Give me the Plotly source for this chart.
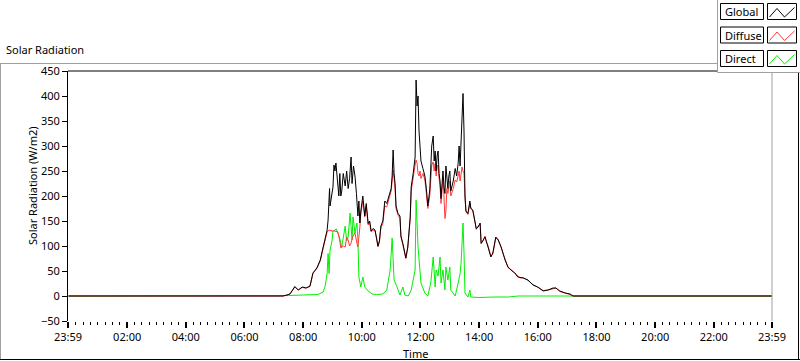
import plotly.graph_objects as go

# ---------------- data (clock time "HH:MM", W/m2) ----------------
global_time = ["00:00", "07:19", "07:27", "07:33", "07:43", "07:50", "07:58", "08:06", "08:14", "08:20",
               "08:28", "08:35", "08:41", "08:49", "08:51", "08:54", "08:55", "08:59", "09:01", "09:03",
               "09:05", "09:07", "09:09", "09:11", "09:13", "09:15", "09:17", "09:19", "09:22", "09:26",
               "09:29", "09:32", "09:35", "09:38", "09:40", "09:43", "09:46", "09:49", "09:52", "09:54",
               "09:56", "09:58", "10:02", "10:06", "10:09", "10:13", "10:16", "10:19", "10:23", "10:27",
               "10:30", "10:33", "10:36", "10:39", "10:43", "10:47", "10:51", "10:54", "10:58", "11:00",
               "11:02", "11:04", "11:06", "11:08", "11:10", "11:14", "11:18", "11:20", "11:24", "11:28",
               "11:30", "11:34", "11:39", "11:41", "11:43", "11:45", "11:49", "11:51", "11:53", "11:55",
               "11:57", "11:59", "12:01", "12:05", "12:09", "12:12", "12:15", "12:19", "12:21", "12:23",
               "12:26", "12:28", "12:30", "12:32", "12:34", "12:36", "12:38", "12:40", "12:42", "12:46",
               "12:48", "12:50", "12:52", "12:54", "12:56", "12:58", "13:00", "13:02", "13:07", "13:11",
               "13:14", "13:17", "13:19", "13:21", "13:23", "13:25", "13:27", "13:29", "13:31", "13:33",
               "13:37", "13:41", "13:43", "13:47", "13:52", "13:54", "13:58", "14:02", "14:04", "14:08",
               "14:12", "14:14", "14:18", "14:22", "14:24", "14:28", "14:32", "14:34", "14:39", "14:45",
               "14:53", "14:59", "15:05", "15:13", "15:19", "15:24", "15:30", "15:40", "15:50", "16:00",
               "16:11", "16:21", "16:31", "16:37", "16:45", "16:56", "17:06", "17:12", "23:59"]
global_wm2 = [0, 0, 2, 4, 19, 12, 18, 16, 20, 46,
              56, 72, 98, 132, 152, 215, 180, 206, 218, 262,
              250, 266, 240, 232, 200, 245, 200, 210, 245, 220,
              250, 215, 235, 278, 225, 260, 240, 205, 160, 190,
              146, 170, 200, 160, 185, 145, 150, 130, 135, 132,
              118, 100, 110, 140, 150, 190, 185, 195, 205, 215,
              240, 292, 245, 225, 180, 165, 160, 120, 105, 85,
              76, 98, 158, 218, 230, 245, 278, 432, 380, 400,
              330, 300, 270, 255, 240, 215, 180, 212, 260, 300,
              320, 270, 290, 250, 280, 290, 245, 230, 195, 250,
              220, 205, 260, 230, 215, 240, 250, 210, 230, 255,
              240, 265, 300, 260, 310, 370, 405, 330, 200, 170,
              165, 190, 175, 172, 145, 135, 138, 146, 105, 112,
              118, 112, 100, 85, 78, 86, 106, 118, 112, 98,
              72, 58, 52, 46, 38, 37, 36, 32, 22, 18,
              10, 12, 16, 16, 10, 6, 4, 0, 0]

diffuse_time = ["00:00", "07:19", "07:27", "07:33", "07:43", "07:50", "07:58", "08:06", "08:14", "08:20",
                "08:28", "08:35", "08:41", "08:49", "08:53", "08:59", "09:05", "09:11", "09:15", "09:17",
                "09:22", "09:26", "09:29", "09:32", "09:35", "09:38", "09:42", "09:46", "09:49", "09:52",
                "09:56", "09:58", "10:02", "10:06", "10:09", "10:13", "10:16", "10:19", "10:23", "10:27",
                "10:30", "10:33", "10:36", "10:39", "10:43", "10:47", "10:51", "10:54", "10:58", "11:00",
                "11:02", "11:04", "11:06", "11:08", "11:10", "11:14", "11:18", "11:20", "11:24", "11:28",
                "11:30", "11:34", "11:39", "11:41", "11:43", "11:45", "11:49", "11:51", "11:53", "11:55",
                "11:57", "11:59", "12:01", "12:05", "12:09", "12:12", "12:15", "12:19", "12:21", "12:23",
                "12:26", "12:28", "12:30", "12:32", "12:34", "12:36", "12:38", "12:40", "12:42", "12:46",
                "12:48", "12:50", "12:52", "12:54", "12:56", "12:58", "13:00", "13:02", "13:07", "13:11",
                "13:14", "13:17", "13:19", "13:21", "13:23", "13:25", "13:27", "13:29", "13:31", "13:33",
                "13:37", "13:41", "13:43", "13:47", "13:52", "13:54", "13:58", "14:02", "14:04", "14:08",
                "14:12", "14:14", "14:18", "14:22", "14:24", "14:28", "14:32", "14:34", "14:39", "14:45",
                "14:53", "14:59", "15:05", "15:13", "15:19", "15:24", "15:30", "15:40", "15:50", "16:00",
                "16:11", "16:21", "16:31", "16:37", "16:45", "16:56", "17:06", "17:12", "23:59"]
diffuse_wm2 = [0, 0, 2, 4, 18, 12, 17, 16, 19, 45,
               55, 70, 96, 128, 132, 130, 130, 128, 110, 96,
               100, 98, 118, 112, 100, 106, 120, 126, 110, 98,
               138, 165, 190, 158, 180, 142, 148, 128, 132, 130,
               116, 98, 108, 136, 145, 180, 178, 188, 198, 210,
               230, 252, 235, 215, 175, 162, 155, 118, 102, 83,
               75, 96, 155, 210, 225, 238, 262, 272, 265, 245,
               240, 250, 235, 245, 232, 205, 175, 200, 235, 262,
               268, 250, 265, 240, 258, 262, 235, 220, 185, 235,
               200, 155, 170, 215, 205, 225, 230, 200, 215, 232,
               228, 240, 250, 230, 245, 258, 250, 245, 200, 168,
               163, 186, 176, 170, 146, 133, 140, 144, 106, 110,
               120, 110, 101, 84, 80, 84, 108, 116, 113, 96,
               73, 57, 53, 45, 39, 36, 37, 31, 23, 17,
               11, 12, 15, 16, 9, 6, 3, 0, 0]

direct_time = ["00:00", "07:19", "07:30", "08:00", "08:30", "08:41", "08:45", "08:49", "08:51", "08:53",
               "08:55", "08:59", "09:01", "09:05", "09:08", "09:11", "09:14", "09:19", "09:22", "09:26",
               "09:29", "09:32", "09:36", "09:40", "09:42", "09:46", "09:50", "09:52", "09:54", "09:58",
               "10:02", "10:06", "10:13", "10:21", "10:30", "10:43", "10:51", "10:58", "11:02", "11:06",
               "11:12", "11:18", "11:24", "11:28", "11:35", "11:41", "11:49", "11:51", "11:55", "11:59",
               "12:01", "12:09", "12:15", "12:21", "12:26", "12:30", "12:32", "12:36", "12:40", "12:42",
               "12:46", "12:50", "12:52", "12:56", "13:00", "13:02", "13:11", "13:17", "13:21", "13:23",
               "13:27", "13:29", "13:31", "13:37", "13:41", "13:43", "14:00", "14:30", "15:00", "15:20",
               "16:00", "16:45", "17:12", "23:59"]
direct_wm2 = [0, 0, 1, 2, 3, 8, 20, 45, 85, 45,
              92, 110, 130, 132, 134, 125, 118, 98, 120, 140,
              110, 118, 166, 112, 158, 126, 146, 112, 38, 18,
              38, 18, 10, 4, 3, 4, 12, 52, 116, 32,
              18, 2, 18, 2, 0, 12, 52, 192, 98, 52,
              26, 6, 0, 26, 78, 18, 52, 40, 78, 26,
              52, 12, 58, 32, 58, 12, 0, 26, 45, 66,
              146, 86, 6, -2, 12, -2, -3, -2, -2, 0,
              0, 0, 0, 0]

y_ticks = [-50, 0, 50, 100, 150, 200, 250, 300, 350, 400, 450]
x_tick_hours = [-1 / 60, 2, 4, 6, 8, 10, 12, 14, 16, 18, 20, 22, 23 + 59 / 60]
x_tick_labels = ["23:59", "02:00", "04:00", "06:00", "08:00", "10:00", "12:00",
                 "14:00", "16:00", "18:00", "20:00", "22:00", "23:59"]
legend_names = ["Global", "Diffuse", "Direct"]
legend_colors = ["#000000", "#ff3b3b", "#00f000"]


def to_hours(t):
    hh, mm = t.split(":")
    return int(hh) + int(mm) / 60.0


FONT = "Segoe UI, Noto Sans, DejaVu Sans, sans-serif"
FS = 11

# plot area in pixels
L, R, T, B = 68, 772, 71, 321
W, H = 800, 361


def px(x):
    return (x - L) / (R - L)


def py(y):
    return (B - y) / (B - T)


fig = go.Figure()
fig.add_trace(go.Scatter(x=[to_hours(t) for t in direct_time], y=direct_wm2, mode="lines",
                         line=dict(color=legend_colors[2], width=1), name="Direct"))
fig.add_trace(go.Scatter(x=[to_hours(t) for t in diffuse_time], y=diffuse_wm2, mode="lines",
                         line=dict(color=legend_colors[1], width=1), name="Diffuse"))
fig.add_trace(go.Scatter(x=[to_hours(t) for t in global_time], y=global_wm2, mode="lines",
                         line=dict(color=legend_colors[0], width=1), name="Global"))

shapes = []
gray = "#a0a0a0"
# outer frame
shapes.append(dict(type="line", xref="paper", yref="paper", x0=px(0), x1=px(717), y0=py(63.5), y1=py(63.5),
                   line=dict(color=gray, width=1)))
shapes.append(dict(type="line", xref="paper", yref="paper", x0=px(0.5), x1=px(0.5), y0=py(63.5), y1=py(359.5),
                   line=dict(color=gray, width=1)))
shapes.append(dict(type="line", xref="paper", yref="paper", x0=px(0), x1=px(800), y0=py(359.5), y1=py(359.5),
                   line=dict(color="#000000", width=1)))
shapes.append(dict(type="line", xref="paper", yref="paper", x0=px(798.5), x1=px(798.5), y0=py(72), y1=py(359.5),
                   line=dict(color="#000000", width=1)))
# plot area borders
shapes.append(dict(type="line", xref="paper", yref="paper", x0=0, x1=1, y0=1, y1=1,
                   line=dict(color="#000000", width=1)))
shapes.append(dict(type="line", xref="paper", yref="paper", x0=1, x1=1, y0=0, y1=1,
                   line=dict(color=gray, width=1)))
# legend panel
shapes.append(dict(type="rect", xref="paper", yref="paper", x0=px(717.5), x1=px(801), y0=py(72.5), y1=py(-1),
                   fillcolor="#ffffff", line=dict(width=0)))
shapes.append(dict(type="line", xref="paper", yref="paper", x0=px(717.5), x1=px(717.5), y0=py(72.5), y1=py(0),
                   line=dict(color=gray, width=1)))
shapes.append(dict(type="line", xref="paper", yref="paper", x0=px(717.5), x1=px(800), y0=py(72.5), y1=py(72.5),
                   line=dict(color=gray, width=1)))

annotations = []
row_tops = [3.5, 27, 50.5]
for name, color, top in zip(legend_names, legend_colors, row_tops):
    bot = top + 16
    shapes.append(dict(type="rect", xref="paper", yref="paper", x0=px(720.5), x1=px(763.5), y0=py(bot), y1=py(top),
                       fillcolor="#ffffff", line=dict(color="#000000", width=1)))
    shapes.append(dict(type="rect", xref="paper", yref="paper", x0=px(767.5), x1=px(796.5), y0=py(bot), y1=py(top),
                       fillcolor="#ffffff", line=dict(color="#000000", width=1)))
    pts = [(769.5, top + 13.5), (777, top + 5), (784.5, top + 13.5), (794.5, top + 4)]
    path = "M " + " L ".join(f"{px(a):.5f},{py(b):.5f}" for a, b in pts)
    shapes.append(dict(type="path", xref="paper", yref="paper", path=path,
                       line=dict(color=color, width=1)))
    annotations.append(dict(text=name, xref="paper", yref="paper", x=px(722.5), y=py(top + 8),
                            xanchor="left", yanchor="middle", showarrow=False,
                            font=dict(family=FONT, size=FS, color="#000000")))

annotations.append(dict(text="Solar Radiation", xref="paper", yref="paper", x=px(4), y=py(50),
                        xanchor="left", yanchor="middle", showarrow=False,
                        font=dict(family=FONT, size=FS, color="#000000")))
annotations.append(dict(text="Solar Radiation (W/m2)", xref="paper", yref="paper", x=px(32), y=py(186),
                        xanchor="center", yanchor="middle", textangle=-90, showarrow=False,
                        font=dict(family=FONT, size=FS, color="#000000")))
annotations.append(dict(text="Time", xref="paper", yref="paper", x=px(415), y=py(353),
                        xanchor="center", yanchor="middle", showarrow=False,
                        font=dict(family=FONT, size=FS, color="#000000")))

fig.update_layout(
    width=W, height=H,
    margin=dict(l=L, r=W - R, t=T, b=H - B, pad=0),
    paper_bgcolor="#ffffff", plot_bgcolor="#ffffff",
    showlegend=False,
    shapes=shapes, annotations=annotations,
    font=dict(family=FONT, size=FS, color="#000000"),
    xaxis=dict(range=[-1 / 60, 23 + 59 / 60], tickmode="array", tickvals=x_tick_hours, ticktext=x_tick_labels,
               ticks="outside", ticklen=6, tickwidth=2, tickcolor="#000000", showgrid=False, zeroline=False,
               showline=False, tickfont=dict(family=FONT, size=FS, color="#000000"),
               minor=dict(tickmode="linear", tick0=0, dtick=0.25, ticks="outside", ticklen=3, tickwidth=1,
                          tickcolor="#000000", showgrid=False)),
    yaxis=dict(range=[-50, 450], tickmode="array", tickvals=y_ticks, ticks="outside", ticklen=5, tickwidth=1,
               tickcolor="#000000", showgrid=False, zeroline=False, showline=True, linecolor="#000000",
               linewidth=1, tickfont=dict(family=FONT, size=FS, color="#000000")),
)

fig.write_html("out.html", config={"displayModeBar": False, "staticPlot": True},
               post_script="document.body.style.margin='0';document.body.style.overflow='hidden';")
